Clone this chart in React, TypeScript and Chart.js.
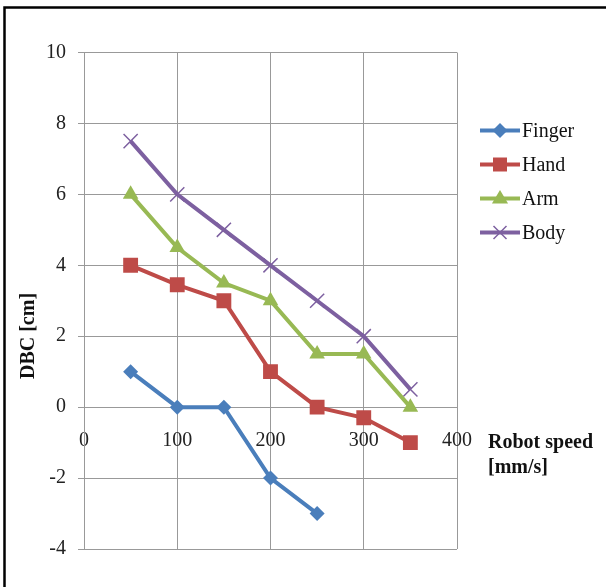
import React, { useEffect, useRef } from "react";
import { Chart, registerables } from "chart.js";

Chart.register(...registerables);

const speeds = [50, 100, 150, 200, 250, 300, 350];
const fingerDBC = [1, 0, 0, -2, -3];
const handDBC = [4, 3.45, 3, 1, 0, -0.3, -1];
const armDBC = [6, 4.5, 3.5, 3, 1.5, 1.5, 0];
const bodyDBC = [7.5, 6, 5, 4, 3, 2, 0.5];
const seriesNames = ["Finger", "Hand", "Arm", "Body"];
const seriesColors = ["#4A7EBB", "#BE4B48", "#98B954", "#7D60A0"];
const seriesMarkers = ["rectRot", "rect", "triangle", "crossRot"];
const xTitleLines = ["Robot speed", "[mm/s]"];
const yTitle = "DBC [cm]";

const FONT = "'Liberation Serif', 'Times New Roman', serif";

function drawMarker(ctx: CanvasRenderingContext2D, style: string, x: number, y: number, color: string) {
  ctx.save();
  ctx.fillStyle = color;
  ctx.strokeStyle = color;
  ctx.beginPath();
  if (style === "rectRot") {
    const r = 7.5;
    ctx.moveTo(x, y - r);
    ctx.lineTo(x + r, y);
    ctx.lineTo(x, y + r);
    ctx.lineTo(x - r, y);
    ctx.closePath();
    ctx.fill();
  } else if (style === "rect") {
    const s = 7;
    ctx.rect(x - s, y - s, 2 * s, 2 * s);
    ctx.fill();
  } else if (style === "triangle") {
    const r = 8.5;
    ctx.moveTo(x, y - r);
    ctx.lineTo(x + r * 0.95, y + r * 0.6);
    ctx.lineTo(x - r * 0.95, y + r * 0.6);
    ctx.closePath();
    ctx.fill();
  } else {
    const r = 6.5;
    ctx.lineWidth = 1.5;
    ctx.moveTo(x - r, y - r);
    ctx.lineTo(x + r, y + r);
    ctx.moveTo(x + r, y - r);
    ctx.lineTo(x - r, y + r);
    ctx.stroke();
  }
  ctx.restore();
}

const decorPlugin = {
  id: "decor",
  afterDraw(chart: any) {
    const ctx: CanvasRenderingContext2D = chart.ctx;
    ctx.save();
    // frame
    ctx.strokeStyle = "#000";
    ctx.lineWidth = 2.5;
    ctx.beginPath();
    ctx.moveTo(4.5, 600);
    ctx.lineTo(4.5, 7.5);
    ctx.lineTo(620, 7.5);
    ctx.stroke();

    // legend
    ctx.font = `20px ${FONT}`;
    ctx.textBaseline = "middle";
    ctx.textAlign = "left";
    chart.data.datasets.forEach((ds: any, i: number) => {
      const y = 130.5 + i * 34;
      ctx.strokeStyle = ds.borderColor;
      ctx.lineWidth = 4;
      ctx.beginPath();
      ctx.moveTo(480, y);
      ctx.lineTo(520, y);
      ctx.stroke();
      drawMarker(ctx, seriesMarkers[i], 500, y, ds.borderColor);
      ctx.fillStyle = "#111";
      ctx.fillText(ds.label, 522, y + 1);
    });

    // axis titles
    ctx.font = `bold 20px ${FONT}`;
    ctx.fillStyle = "#111";
    ctx.textAlign = "left";
    ctx.fillText(xTitleLines[0], 488, 443);
    ctx.fillText(xTitleLines[1], 488, 468);

    ctx.translate(29, 336);
    ctx.rotate(-Math.PI / 2);
    ctx.textAlign = "center";
    ctx.fillText(yTitle, 0, 0);
    ctx.restore();
  },
};

export default function App() {
  const ref = useRef<HTMLCanvasElement | null>(null);

  useEffect(() => {
    document.body.style.margin = "0";
    const canvas = ref.current!;
    const all = [fingerDBC, handDBC, armDBC, bodyDBC];
    const chart = new Chart(canvas, {
      type: "line",
      data: {
        datasets: all.map((vals, i) => ({
          label: seriesNames[i],
          data: vals.map((v, j) => ({ x: speeds[j], y: v })),
          borderColor: seriesColors[i],
          backgroundColor: seriesColors[i],
          borderWidth: 4,
          pointStyle: seriesMarkers[i] as any,
          pointRadius: i === 0 ? 7.5 : i === 1 ? 10.5 : i === 2 ? 9 : 10,
          pointBorderWidth: i === 3 ? 1.5 : 0,
          pointBackgroundColor: seriesColors[i],
          pointBorderColor: seriesColors[i],
          tension: 0,
        })),
      },
      options: {
        animation: false,
        responsive: false,
        layout: { padding: { left: 0, top: 52.5, right: 149, bottom: 38 } },
        plugins: { legend: { display: false }, tooltip: { enabled: false } },
        scales: {
          x: {
            type: "linear",
            min: 0,
            max: 400,
            position: { y: 0 } as any,
            ticks: {
              stepSize: 100,
              padding: 22,
              color: "#222",
              font: { family: FONT, size: 20 },
            },
            grid: { color: "#999999", lineWidth: 1, drawTicks: false },
            border: { color: "#999999", width: 1 },
          },
          y: {
            type: "linear",
            min: -4,
            max: 10,
            afterFit: (scale: any) => {
              scale.width = 84;
            },
            ticks: {
              stepSize: 2,
              padding: 12,
              color: "#222",
              font: { family: FONT, size: 20 },
            },
            grid: { color: "#999999", lineWidth: 1, tickLength: 6 },
            border: { color: "#999999", width: 1 },
          },
        },
      },
      plugins: [decorPlugin],
    });
    return () => chart.destroy();
  }, []);

  return <canvas ref={ref} width={606} height={587} style={{ display: "block" }} />;
}
